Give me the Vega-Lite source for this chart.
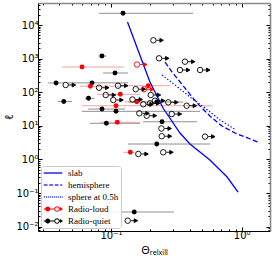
{
  "$schema": "https://vega.github.io/schema/vega-lite/v6.json",
  "width": 232,
  "height": 228,
  "autosize": {"type": "none"},
  "padding": {"left": 38, "top": 3, "right": 4, "bottom": 25},
  "background": "white",
  "config": {
    "view": {"stroke": null},
    "axis": {"grid": false, "labelFont": "DejaVu Sans", "titleFont": "Noto Sans, DejaVu Sans", "labelColor": "black", "titleColor": "black", "tickColor": "black", "labelOverlap": false, "labelFlush": false, "labelBound": false, "titleFontWeight": "normal"}
  },
  "datasets": {
    "pts": [
      {"g": "RQ", "k": "det", "t": 0.1236, "lo": 0.081, "hi": 0.424, "l": 22300},
      {"g": "RQ", "k": "det", "t": 0.0853, "lo": 0.080, "hi": 0.092, "l": 1190},
      {"g": "RQ", "k": "det", "t": 0.1073, "lo": 0.0869, "hi": 0.1349, "l": 373},
      {"g": "RQ", "k": "det", "t": 0.038, "lo": 0.033, "hi": 0.0437, "l": 188},
      {"g": "RQ", "k": "det", "t": 0.0716, "lo": 0.0469, "hi": 0.1349, "l": 190},
      {"g": "RQ", "k": "det", "t": 0.0673, "lo": 0.0632, "hi": 0.075, "l": 65.8},
      {"g": "RQ", "k": "det", "t": 0.0435, "lo": 0.0393, "hi": 0.0503, "l": 52.8},
      {"g": "RQ", "k": "det", "t": 0.0853, "lo": 0.0667, "hi": 0.1279, "l": 31.6},
      {"g": "RQ", "k": "det", "t": 0.1092, "lo": 0.060, "hi": 0.48, "l": 27},
      {"g": "RQ", "k": "det", "t": 0.0921, "lo": 0.0691, "hi": 0.1667, "l": 11.9},
      {"g": "RQ", "k": "det", "t": 0.2455, "lo": 0.1758, "hi": 0.455, "l": 13.2},
      {"g": "RQ", "k": "det", "t": 0.2239, "lo": 0.1349, "hi": 0.571, "l": 2.87},
      {"g": "RQ", "k": "det", "t": 0.1505, "lo": 0.0927, "hi": 0.303, "l": 0.0272},
      {"g": "RQ", "k": "det", "t": 0.2239, "lo": 0.1349, "hi": 0.356, "l": 51},
      {"g": "RL", "k": "det", "t": 0.060, "lo": 0.0422, "hi": 0.1257, "l": 562},
      {"g": "RL", "k": "det", "t": 0.0695, "lo": 0.0579, "hi": 0.1349, "l": 151},
      {"g": "RL", "k": "det", "t": 0.1926, "lo": 0.1279, "hi": 0.2826, "l": 156},
      {"g": "RL", "k": "det", "t": 0.1178, "lo": 0.0782, "hi": 0.1667, "l": 86.6},
      {"g": "RL", "k": "det", "t": 0.1573, "lo": 0.1279, "hi": 0.19, "l": 52.1},
      {"g": "RL", "k": "det", "t": 0.1092, "lo": 0.060, "hi": 0.593, "l": 39.6},
      {"g": "RL", "k": "det", "t": 0.1117, "lo": 0.0824, "hi": 0.1667, "l": 12.7},
      {"g": "RL", "k": "det", "t": 0.1405, "lo": 0.1236, "hi": 0.1524, "l": 1.63},
      {"g": "RL", "k": "lim", "t": 0.1581, "l": 666},
      {"g": "RL", "k": "lim", "t": 0.1789, "l": 122},
      {"g": "RQ", "k": "lim", "t": 0.211, "l": 3510},
      {"g": "RQ", "k": "lim", "t": 0.233, "l": 1021},
      {"g": "RQ", "k": "lim", "t": 0.368, "l": 809},
      {"g": "RQ", "k": "lim", "t": 0.337, "l": 458},
      {"g": "RQ", "k": "lim", "t": 0.48, "l": 458},
      {"g": "RQ", "k": "lim", "t": 0.045, "l": 164},
      {"g": "RQ", "k": "lim", "t": 0.0809, "l": 136},
      {"g": "RQ", "k": "lim", "t": 0.1131, "l": 156},
      {"g": "RQ", "k": "lim", "t": 0.1545, "l": 123},
      {"g": "RQ", "k": "lim", "t": 0.0911, "l": 82.6},
      {"g": "RQ", "k": "lim", "t": 0.1041, "l": 58.6},
      {"g": "RQ", "k": "lim", "t": 0.146, "l": 60.6},
      {"g": "RQ", "k": "lim", "t": 0.2013, "l": 82.6},
      {"g": "RQ", "k": "lim", "t": 0.1766, "l": 43.6},
      {"g": "RQ", "k": "lim", "t": 0.1986, "l": 46.8},
      {"g": "RQ", "k": "lim", "t": 0.217, "l": 55.8},
      {"g": "RQ", "k": "lim", "t": 0.274, "l": 50},
      {"g": "RQ", "k": "lim", "t": 0.379, "l": 39.6},
      {"g": "RQ", "k": "lim", "t": 0.1646, "l": 23.5},
      {"g": "RQ", "k": "lim", "t": 0.1875, "l": 20},
      {"g": "RQ", "k": "lim", "t": 0.2913, "l": 22.4},
      {"g": "RQ", "k": "lim", "t": 0.243, "l": 8.32},
      {"g": "RQ", "k": "lim", "t": 0.524, "l": 4.77},
      {"g": "RQ", "k": "lim", "t": 0.2443, "l": 4.9},
      {"g": "RQ", "k": "lim", "t": 0.1618, "l": 1.45},
      {"g": "RQ", "k": "lim", "t": 0.251, "l": 1.63},
      {"g": "RQ", "k": "lim", "t": 0.1342, "l": 0.015}
    ],
    "curves": [
      {"m": "slab", "t": 0.1337, "l": 12300},
      {"m": "slab", "t": 0.1717, "l": 908},
      {"m": "slab", "t": 0.1986, "l": 201},
      {"m": "slab", "t": 0.25, "l": 33.9},
      {"m": "slab", "t": 0.337, "l": 6.1},
      {"m": "slab", "t": 0.402, "l": 2.87},
      {"m": "slab", "t": 0.571, "l": 0.96},
      {"m": "slab", "t": 0.773, "l": 0.299},
      {"m": "slab", "t": 0.938, "l": 0.107},
      {"m": "hemisphere", "t": 0.259, "l": 792},
      {"m": "hemisphere", "t": 0.293, "l": 399},
      {"m": "hemisphere", "t": 0.368, "l": 133},
      {"m": "hemisphere", "t": 0.455, "l": 47.7},
      {"m": "hemisphere", "t": 0.571, "l": 19.6},
      {"m": "hemisphere", "t": 0.706, "l": 9.9},
      {"m": "hemisphere", "t": 0.889, "l": 6.1},
      {"m": "hemisphere", "t": 1.117, "l": 4.33},
      {"m": "hemisphere", "t": 1.38, "l": 3.08},
      {"m": "sphere at 0.5h", "t": 0.2454, "l": 325},
      {"m": "sphere at 0.5h", "t": 0.309, "l": 164},
      {"m": "sphere at 0.5h", "t": 0.402, "l": 72},
      {"m": "sphere at 0.5h", "t": 0.524, "l": 33.9},
      {"m": "sphere at 0.5h", "t": 0.682, "l": 14.9},
      {"m": "sphere at 0.5h", "t": 0.904, "l": 7.5}
    ],
    "leg": [
      {"cat": "slab"}, {"cat": "hemisphere"}, {"cat": "sphere at 0.5h"}, {"cat": "Radio-loud"}, {"cat": "Radio-quiet"}
    ]
  },
  "layer": [
    {
      "data": {"name": "pts"},
      "transform": [{"filter": "datum.k === 'det'"}],
      "mark": {"type": "rule", "strokeWidth": 1},
      "encoding": {
        "x": {"field": "lo", "type": "quantitative",
          "scale": {"type": "log", "domain": [0.02763, 1.646], "nice": false},
          "axis": {"orient": "bottom", "title": "Θᵣₑₗₓᵢₗₗ", "titleFontSize": 11, "titlePadding": 2, "labelFontSize": 10, "labelPadding": 3,
            "values": [0.03, 0.04, 0.05, 0.06, 0.07, 0.08, 0.09, 0.1, 0.2, 0.3, 0.4, 0.5, 0.6, 0.7, 0.8, 0.9, 1],
            "labelExpr": "datum.value == 0.1 ? '10⁻¹' : datum.value == 1 ? '10⁰' : ''",
            "tickSize": {"condition": {"test": "datum.value == 0.1 || datum.value == 1", "value": -4}, "value": -2},
            "domainColor": "black"}},
        "x2": {"field": "hi"},
        "y": {"field": "l", "type": "quantitative",
          "scale": {"type": "log", "domain": [0.0074, 45200], "nice": false},
          "axis": {"orient": "left", "title": "ℓ", "titleFontStyle": "italic", "titleFontSize": 11, "titlePadding": 1, "labelFontSize": 10, "labelPadding": 4,
            "values": [0.008, 0.009, 0.01, 0.02, 0.03, 0.04, 0.05, 0.06, 0.07, 0.08, 0.09, 0.1, 0.2, 0.3, 0.4, 0.5, 0.6, 0.7, 0.8, 0.9, 1, 2, 3, 4, 5, 6, 7, 8, 9, 10, 20, 30, 40, 50, 60, 70, 80, 90, 100, 200, 300, 400, 500, 600, 700, 800, 900, 1000, 2000, 3000, 4000, 5000, 6000, 7000, 8000, 9000, 10000, 20000, 30000, 40000],
            "labelExpr": "abs(log(datum.value)/LN10 - round(log(datum.value)/LN10)) > 0.001 ? '' : round(log(datum.value)/LN10) == 4 ? '10⁴' : round(log(datum.value)/LN10) == 3 ? '10³' : round(log(datum.value)/LN10) == 2 ? '10²' : round(log(datum.value)/LN10) == 1 ? '10¹' : round(log(datum.value)/LN10) == 0 ? '10⁰' : round(log(datum.value)/LN10) == -1 ? '10⁻¹' : '10⁻²'",
            "tickSize": {"condition": {"test": "abs(log(datum.value)/LN10 - round(log(datum.value)/LN10)) < 0.001", "value": -4}, "value": -2},
            "domainColor": "black"}},
        "color": {"condition": {"test": "datum.g === 'RL'", "value": "#f4a3a3"}, "value": "#8f8f8f"}
      }
    },
    {
      "data": {"name": "curves"},
      "transform": [{"filter": "datum.m === 'slab'"}],
      "mark": {"type": "line", "color": "#0000ff", "strokeWidth": 1.3},
      "encoding": {
        "x": {"field": "t", "type": "quantitative", "scale": {"type": "log", "domain": [0.02763, 1.646], "nice": false}, "axis": null},
        "y": {"field": "l", "type": "quantitative", "scale": {"type": "log", "domain": [0.0074, 45200], "nice": false}, "axis": null}
      }
    },
    {
      "data": {"name": "curves"},
      "transform": [{"filter": "datum.m === 'hemisphere'"}],
      "mark": {"type": "line", "color": "#0000ff", "strokeWidth": 1.3, "strokeDash": [5, 2.5]},
      "encoding": {
        "x": {"field": "t", "type": "quantitative", "scale": {"type": "log", "domain": [0.02763, 1.646], "nice": false}, "axis": null},
        "y": {"field": "l", "type": "quantitative", "scale": {"type": "log", "domain": [0.0074, 45200], "nice": false}, "axis": null}
      }
    },
    {
      "data": {"name": "curves"},
      "transform": [{"filter": "datum.m === 'sphere at 0.5h'"}],
      "mark": {"type": "line", "color": "#0000ff", "strokeWidth": 1.3, "strokeDash": [1.3, 2]},
      "encoding": {
        "x": {"field": "t", "type": "quantitative", "scale": {"type": "log", "domain": [0.02763, 1.646], "nice": false}, "axis": null},
        "y": {"field": "l", "type": "quantitative", "scale": {"type": "log", "domain": [0.0074, 45200], "nice": false}, "axis": null}
      }
    },
    {
      "data": {"name": "pts"},
      "transform": [{"filter": "datum.k === 'det'"}],
      "mark": {"type": "point", "shape": "circle", "filled": true, "size": 24, "opacity": 1},
      "encoding": {
        "x": {"field": "t", "type": "quantitative", "scale": {"type": "log", "domain": [0.02763, 1.646], "nice": false}, "axis": null},
        "y": {"field": "l", "type": "quantitative", "scale": {"type": "log", "domain": [0.0074, 45200], "nice": false}, "axis": null},
        "color": {"condition": {"test": "datum.g === 'RL'", "value": "#ff0000"}, "value": "#000000"}
      }
    },
    {
      "data": {"name": "pts"},
      "transform": [{"filter": "datum.k === 'lim'"}],
      "mark": {"type": "point", "shape": "M0.6,0H1.45M1.3,-0.38L2,0L1.3,0.38Z", "size": 100, "strokeWidth": 0.9, "opacity": 1},
      "encoding": {
        "x": {"field": "t", "type": "quantitative", "scale": {"type": "log", "domain": [0.02763, 1.646], "nice": false}, "axis": null},
        "y": {"field": "l", "type": "quantitative", "scale": {"type": "log", "domain": [0.0074, 45200], "nice": false}, "axis": null},
        "fill": {"condition": {"test": "datum.g === 'RL'", "value": "#ff0000"}, "value": "#000000"},
        "stroke": {"condition": {"test": "datum.g === 'RL'", "value": "#ff0000"}, "value": "#000000"}
      }
    },
    {
      "data": {"name": "pts"},
      "transform": [{"filter": "datum.k === 'lim'"}],
      "mark": {"type": "point", "shape": "circle", "filled": false, "size": 30, "strokeWidth": 0.9, "opacity": 1},
      "encoding": {
        "x": {"field": "t", "type": "quantitative", "scale": {"type": "log", "domain": [0.02763, 1.646], "nice": false}, "axis": null},
        "y": {"field": "l", "type": "quantitative", "scale": {"type": "log", "domain": [0.0074, 45200], "nice": false}, "axis": null},
        "stroke": {"condition": {"test": "datum.g === 'RL'", "value": "#ff0000"}, "value": "#000000"}
      }
    },
    {
      "data": {"name": "leg"},
      "transform": [{"filter": "false"}],
      "mark": {"type": "point", "filled": true, "size": 100, "opacity": 1},
      "encoding": {
        "x": {"field": "t", "type": "quantitative", "scale": {"type": "log", "domain": [0.02763, 1.646], "nice": false},
          "axis": {"orient": "top", "labels": false, "title": null, "domainColor": "#888888", "domainWidth": 1.6,
            "values": [0.03, 0.04, 0.05, 0.06, 0.07, 0.08, 0.09, 0.1, 0.2, 0.3, 0.4, 0.5, 0.6, 0.7, 0.8, 0.9, 1],
            "tickSize": {"condition": {"test": "datum.value == 0.1 || datum.value == 1", "value": -4}, "value": -2}}},
        "y": {"field": "l", "type": "quantitative", "scale": {"type": "log", "domain": [0.0074, 45200], "nice": false},
          "axis": {"orient": "right", "labels": false, "title": null, "domainColor": "#888888", "domainWidth": 1.6,
            "values": [0.008, 0.009, 0.01, 0.02, 0.03, 0.04, 0.05, 0.06, 0.07, 0.08, 0.09, 0.1, 0.2, 0.3, 0.4, 0.5, 0.6, 0.7, 0.8, 0.9, 1, 2, 3, 4, 5, 6, 7, 8, 9, 10, 20, 30, 40, 50, 60, 70, 80, 90, 100, 200, 300, 400, 500, 600, 700, 800, 900, 1000, 2000, 3000, 4000, 5000, 6000, 7000, 8000, 9000, 10000, 20000, 30000, 40000],
            "tickSize": {"condition": {"test": "abs(log(datum.value)/LN10 - round(log(datum.value)/LN10)) < 0.001", "value": -4}, "value": -2}}},
        "color": {"field": "cat", "type": "nominal",
          "scale": {"domain": ["slab", "hemisphere", "sphere at 0.5h", "Radio-loud", "Radio-quiet"], "range": ["#0000ff", "#3a3aff", "#5050ff", "#ff0000", "#000000"]},
          "legend": {"title": null, "orient": "bottom-left", "offset": 3, "padding": 2, "rowPadding": 2, "symbolSize": 100, "symbolOffset": 5, "labelOffset": 10,
            "labelFont": "Liberation Serif", "labelFontSize": 9, "labelColor": "#000000", "strokeColor": "#cccccc", "fillColor": "rgba(255,255,255,0.85)", "cornerRadius": 3, "labelLimit": 0, "symbolStrokeWidth": 0,
            "encode": {"labels": {"update": {"fill": {"value": "#000000"}, "opacity": {"value": 1}}}}}},
        "shape": {"field": "cat", "type": "nominal",
          "scale": {"domain": ["slab", "hemisphere", "sphere at 0.5h", "Radio-loud", "Radio-quiet"],
            "range": ["M-1.85,-0.13H1.85V0.13H-1.85Z",
              "M-1.85,-0.13H-1.1V0.13H-1.85Z M-0.75,-0.13H0V0.13H-0.75Z M0.35,-0.13H1.1V0.13H0.35Z M1.45,-0.13H1.85V0.13H1.45Z",
              "M-1.85,-0.13H-1.6V0.13H-1.85Z M-1.45,-0.13H-1.2V0.13H-1.45Z M-1.05,-0.13H-0.8V0.13H-1.05Z M-0.65,-0.13H-0.4V0.13H-0.65Z M-0.25,-0.13H0V0.13H-0.25Z M0.15,-0.13H0.4V0.13H0.15Z M0.55,-0.13H0.8V0.13H0.55Z M0.95,-0.13H1.2V0.13H0.95Z M1.35,-0.13H1.6V0.13H1.35Z M1.75,-0.13H1.95V0.13H1.75Z",
              "M-1.85,-0.1H0.26V0.1H-1.85Z M-0.55,0A0.5,0.5 0 1,1 -1.55,0A0.5,0.5 0 1,1 -0.55,0Z M1.35,0A0.55,0.55 0 1,1 0.25,0A0.55,0.55 0 1,1 1.35,0Z M1.17,0A0.37,0.37 0 1,0 0.43,0A0.37,0.37 0 1,0 1.17,0Z M1.34,-0.1H1.5V0.1H1.34Z M1.4,-0.38L2,0L1.4,0.38Z",
              "M-1.85,-0.1H0.26V0.1H-1.85Z M-0.55,0A0.5,0.5 0 1,1 -1.55,0A0.5,0.5 0 1,1 -0.55,0Z M1.35,0A0.55,0.55 0 1,1 0.25,0A0.55,0.55 0 1,1 1.35,0Z M1.17,0A0.37,0.37 0 1,0 0.43,0A0.37,0.37 0 1,0 1.17,0Z M1.34,-0.1H1.5V0.1H1.34Z M1.4,-0.38L2,0L1.4,0.38Z"]},
          "legend": {"title": null, "orient": "bottom-left", "offset": 3, "padding": 2, "rowPadding": 2, "symbolSize": 100, "symbolOffset": 5, "labelOffset": 10,
            "labelFont": "Liberation Serif", "labelFontSize": 9, "labelColor": "#000000", "strokeColor": "#cccccc", "fillColor": "rgba(255,255,255,0.85)", "cornerRadius": 3, "labelLimit": 0, "symbolStrokeWidth": 0,
            "encode": {"labels": {"update": {"fill": {"value": "#000000"}, "opacity": {"value": 1}}}}}}
      }
    }
  ],
  "resolve": {"axis": {"x": "independent", "y": "independent"}}
}
